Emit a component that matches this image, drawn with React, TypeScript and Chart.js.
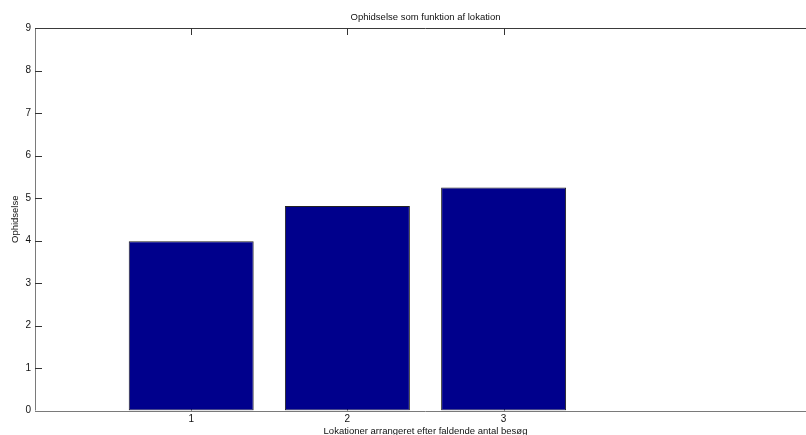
import React, { useEffect, useRef } from "react";
import { Chart, registerables } from "chart.js";

Chart.register(...registerables);

// Locations ordered by falling number of visits, and the arousal level at each
const locations = [1, 2, 3];
const arousal = [3.98, 4.81, 5.25];
const yTicks = [0, 1, 2, 3, 4, 5, 6, 7, 8, 9];
const xTicks = [1, 2, 3];

const titleText = "Ophidselse som funktion af lokation";
const xTitle = "Lokationer arrangeret efter faldende antal besøg";
const yTitle = "Ophidselse";

const FONT = "'Liberation Sans', Arial, Helvetica, sans-serif";

// Draws the MATLAB-style box axes with inward ticks and the text around the plot
const frame = {
  id: "matlabFrame",
  beforeDatasetsDraw(chart: any) {
    const { ctx, chartArea: a, scales } = chart;
    const xs = scales.x;
    const ys = scales.y;
    const tl = 7;
    ctx.save();
    ctx.lineWidth = 1;
    // left and bottom axis lines
    ctx.strokeStyle = "#7a7a7a";
    ctx.beginPath();
    ctx.moveTo(a.left + 0.5, a.top);
    ctx.lineTo(a.left + 0.5, a.bottom);
    ctx.moveTo(a.left, Math.round(a.bottom) + 0.5);
    ctx.lineTo(a.right, Math.round(a.bottom) + 0.5);
    ctx.stroke();
    // top axis line
    ctx.strokeStyle = "#3a3a3a";
    ctx.beginPath();
    ctx.moveTo(a.left, Math.round(a.top) + 0.5);
    ctx.lineTo(a.right, Math.round(a.top) + 0.5);
    ctx.stroke();
    // y ticks on the left, pointing inward
    ctx.strokeStyle = "#333";
    ctx.beginPath();
    for (const v of yTicks) {
      if (v === 0 || v === 9) continue;
      const y = Math.round(ys.getPixelForValue(v)) + 0.5;
      ctx.moveTo(a.left, y);
      ctx.lineTo(a.left + tl, y);
    }
    // x ticks on top and bottom, pointing inward
    for (const v of xTicks) {
      const x = Math.round(xs.getPixelForValue(v)) + 0.5;
      ctx.moveTo(x, a.top);
      ctx.lineTo(x, a.top + tl);
      ctx.moveTo(x, a.bottom);
      ctx.lineTo(x, a.bottom - tl);
    }
    ctx.stroke();
    ctx.restore();
  },
  afterDraw(chart: any) {
    const { ctx, chartArea: a } = chart;
    const cx = (a.left + a.right) / 2;
    const cy = (a.top + a.bottom) / 2;
    ctx.save();
    ctx.fillStyle = "#111";
    ctx.font = `9.5px ${FONT}`;
    ctx.textAlign = "center";
    ctx.textBaseline = "middle";
    ctx.fillText(titleText, cx, 17);
    ctx.fillText(xTitle, cx, 431);
    ctx.translate(15, cy);
    ctx.rotate(-Math.PI / 2);
    ctx.fillText(yTitle, 0, 0);
    ctx.restore();
  },
};

export default function App() {
  const ref = useRef<HTMLCanvasElement | null>(null);

  useEffect(() => {
    if (!ref.current) return;
    const chart = new Chart(ref.current, {
      type: "bar",
      data: {
        datasets: [
          {
            data: locations.map((x, i) => ({ x, y: arousal[i] })),
            backgroundColor: "#00008c",
            borderColor: "#222",
            borderWidth: 1,
            borderSkipped: false,
            barPercentage: 0.8,
            categoryPercentage: 1,
          },
        ],
      },
      options: {
        responsive: false,
        animation: false,
        layout: { padding: { top: 28, right: 4, left: 0, bottom: 0 } },
        plugins: {
          legend: { display: false },
          title: { display: false },
          tooltip: { enabled: false },
        },
        scales: {
          x: {
            type: "linear",
            min: 0,
            max: 5,
            offset: false,
            grid: { display: false, drawTicks: false },
            border: { display: false },
            afterBuildTicks: (s: any) => {
              s.ticks = xTicks.map((v) => ({ value: v }));
            },
            afterFit: (s: any) => {
              s.height = 24.5;
            },
            ticks: {
              autoSkip: false,
              maxRotation: 0,
              padding: 3,
              color: "#111",
              font: { family: FONT, size: 10 },
              callback: (v: any) => String(v),
            },
          },
          y: {
            min: 0,
            max: 9,
            grid: { display: false, drawTicks: false },
            border: { display: false },
            afterBuildTicks: (s: any) => {
              s.ticks = yTicks.map((v) => ({ value: v }));
            },
            afterFit: (s: any) => {
              s.width = 35;
            },
            ticks: {
              padding: 4,
              color: "#111",
              font: { family: FONT, size: 10 },
              callback: (v: any) => String(v),
            },
          },
        },
      },
      plugins: [frame],
    });
    return () => chart.destroy();
  }, []);

  return (
    <div style={{ position: "fixed", left: 0, top: 0, width: 820, height: 435, background: "#fff" }}>
      <canvas ref={ref} width={820} height={435} />
    </div>
  );
}
